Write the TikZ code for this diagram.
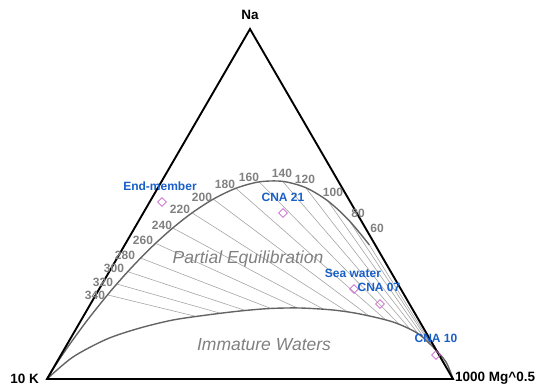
\documentclass[tikz,border=0pt]{standalone}
\usepackage{fontspec}
\setmainfont{Liberation Sans}
\usetikzlibrary{shapes.geometric}
\definecolor{tgray}{RGB}{128,128,128}
\definecolor{sblue}{RGB}{25,95,200}
\definecolor{smag}{RGB}{200,100,200}
\definecolor{cgray}{RGB}{100,100,100}
\definecolor{igray}{RGB}{165,165,165}

\begin{document}
\begin{tikzpicture}[
    x=1pt, y=-1pt,
    vlab/.style={font=\fontsize{13.5}{15}\selectfont\bfseries, inner sep=0pt},
    tlab/.style={font=\fontsize{12}{14}\selectfont\bfseries, text=tgray, inner sep=0pt},
    slab/.style={font=\fontsize{12}{14}\selectfont\bfseries, text=sblue, inner sep=0pt},
    zlab/.style={font=\fontsize{17.5}{20}\selectfont\itshape, text=tgray, inner sep=0pt},
    sample/.style={diamond, draw=smag, line width=0.8pt, minimum size=9pt, inner sep=0pt},
    curve/.style={cgray, line width=1.4pt},
    iso/.style={igray, line width=0.6pt},
    edge/.style={black, line width=1.9pt}
]
\useasboundingbox (0,0) rectangle (541,387);

% corners
\coordinate (Na) at (250,29);
\coordinate (K) at (47,379);
\coordinate (Mg) at (453,379);

% full equilibrium points (Na-K and K-Mg)
\foreach \tm in {60,80,100,120,140,160,180,200,220,240,260,280,300,320,340,400,500,600,800,1000} {
  \pgfmathsetmacro\Tk{\tm+273.15}
  \pgfmathsetmacro\wna{10^(1390/\Tk-1.75)}
  \pgfmathsetmacro\wmg{10^(2205/\Tk-4)}
  \pgfmathsetmacro\wa{\wna/(\wna+10+\wmg)}
  \pgfmathsetmacro\wc{\wmg/(\wna+10+\wmg)}
  \coordinate (t\tm) at ({47+\wa*203+\wc*406}, {379-\wa*350});
}

% isotherms
\begin{scope}
  \clip plot[smooth] coordinates {(47,379) (73,357) (107,339) (140,328) (173,320)
        (207,315) (240,311) (270,308.5) (300,308) (333,310) (360,314) (393,322)
        (417,333) (433,347) (446,362) (453,379)} -- (Na) -- cycle;
  \foreach \tm in {60,80,...,340}
    \draw[iso] (t\tm) -- (Mg);
\end{scope}

\draw[curve] plot[smooth] coordinates {(t60) (t80) (t100) (t120) (t140) (t160)
      (t180) (t200) (t220) (t240) (t260) (t280) (t300) (t320) (t340) (t400)
      (t500) (t600) (t800) (t1000) (K)};
\draw[curve] plot[smooth] coordinates {(47,379) (73,357) (107,339) (140,328) (173,320)
      (207,315) (240,311) (270,308.5) (300,308) (333,310) (360,314) (393,322)
      (417,333) (433,347) (446,362) (453,379)};

\draw[edge, line join=miter] (Na) -- (K) -- (Mg) -- cycle;

\foreach \tm/\x/\y in {60/377/228, 80/358/213, 100/333/192, 120/305/179,
                      140/282/173, 160/249/177, 180/225/184, 200/202/197,
                      220/180/209, 240/162/225, 260/143/240, 280/125/255,
                      300/114/268, 320/103/282, 340/95/295}
    \node[tlab] (l\tm) at (\x,\y) {\tm};

% samples
\node[sample] (em) at (162,202) {};
\node[sample] (c21) at (283,213) {};
\node[sample] (sw) at (354,289) {};
\node[sample] (c07) at (380,304) {};
\node[sample] (c10) at (436,355) {};
\node[slab] (emL) at (160,186) {End-member};
\node[slab] (c21L) at (283,197) {CNA 21};
\node[slab] (swL) at (353,273) {Sea water};
\node[slab] (c07L) at (379,287) {CNA 07};
\node[slab] (c10L) at (436,338) {CNA 10};

\node[zlab] (pe) at (248,259) {Partial Equilibration};
\node[zlab] (iw) at (264,345) {Immature Waters};

\node[vlab] (naL) at (250,15) {Na};
\node[vlab, anchor=east] (kL) at (39,379) {10 K};
\node[vlab, anchor=west] (mgL) at (455,378) {1000 Mg\textasciicircum 0.5};
\end{tikzpicture}
\end{document}
